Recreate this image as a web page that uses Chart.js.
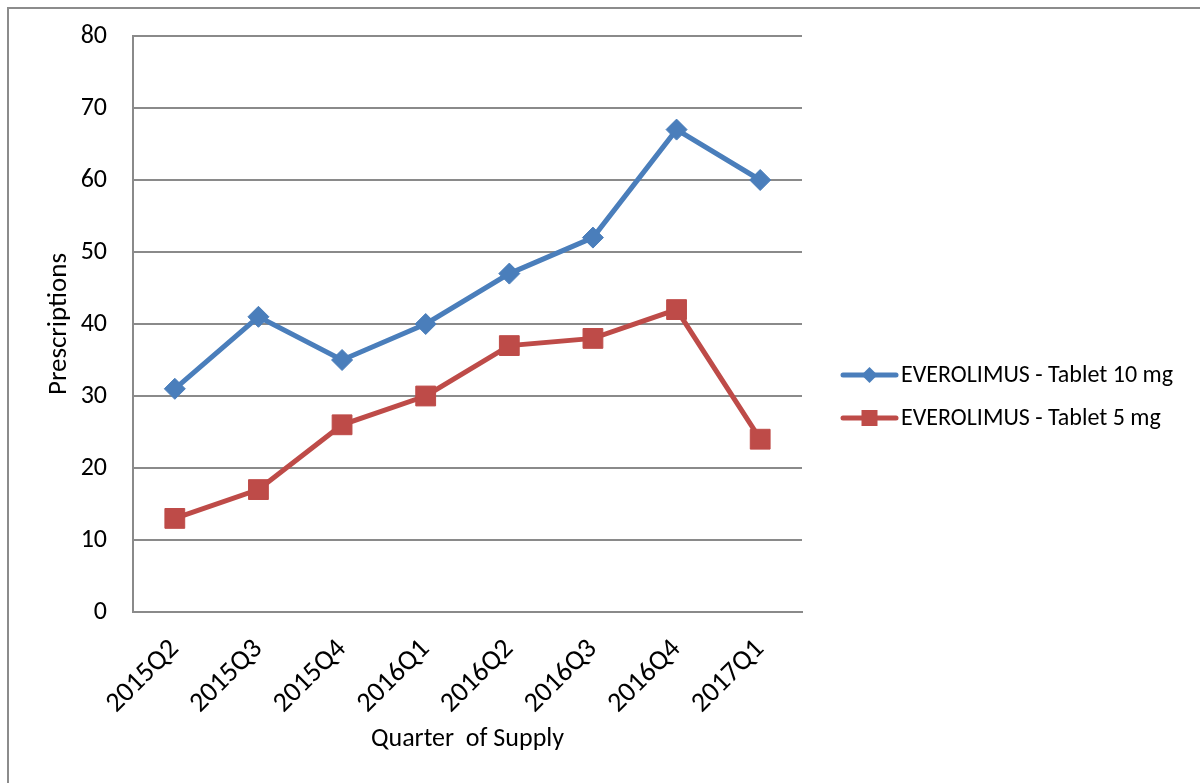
<!DOCTYPE html>
<html>
<head>
<meta charset="utf-8">
<script src="https://cdn.jsdelivr.net/npm/chart.js@4.4.1/dist/chart.umd.min.js"></script>
<style>
  html, body { margin: 0; padding: 0; background: #fff; }
  #wrap { position: relative; width: 1200px; height: 783px; }
</style>
</head>
<body>
<div id="wrap"><canvas id="quarterChart" width="1200" height="783"></canvas></div>
<script>
// 분기별 처방 건수
const quarters = ['2015Q2', '2015Q3', '2015Q4', '2016Q1', '2016Q2', '2016Q3', '2016Q4', '2017Q1']
const tablet10mg = [31, 41, 35, 40, 47, 52, 67, 60]
const tablet5mg = [13, 17, 26, 30, 37, 38, 42, 24]
const yTicks = [0, 10, 20, 30, 40, 50, 60, 70, 80]

const seriesNames = ['EVEROLIMUS - Tablet 10 mg', 'EVEROLIMUS - Tablet 5 mg']
const blue = '#4A7EBB'
const red = '#BE4B48'
const gridGray = '#8a8a8a'
const fontFamily = 'Carlito, Lato, "Open Sans", sans-serif'

// 바깥 테두리(위, 왼쪽)
const frameLines = {
    id: 'frameLines',
    beforeDraw: chart => {
        const ctx = chart.ctx
        ctx.save()
        ctx.fillStyle = '#fff'
        ctx.fillRect(0, 0, chart.width, chart.height)
        ctx.strokeStyle = '#8c8c8c'
        ctx.lineWidth = 2
        ctx.beginPath()
        ctx.moveTo(8, chart.height)
        ctx.lineTo(8, 8)
        ctx.lineTo(chart.width, 8)
        ctx.stroke()
        ctx.restore()
    }
}

// 오른쪽 범례 (선 + 마커)
const sideLegend = {
    id: 'sideLegend',
    afterDraw: chart => {
        const ctx = chart.ctx
        const x0 = 841, x1 = 898
        const rows = [375, 418]
        chart.data.datasets.forEach((ds, i) => {
            const y = rows[i]
            const cx = (x0 + x1) / 2
            ctx.save()
            ctx.strokeStyle = ds.borderColor
            ctx.lineWidth = 5
            ctx.lineCap = 'round'
            ctx.beginPath()
            ctx.moveTo(x0 + 2, y)
            ctx.lineTo(x1 - 2, y)
            ctx.stroke()
            ctx.fillStyle = ds.backgroundColor
            ctx.beginPath()
            if (ds.pointStyle === 'rectRot') {
                ctx.moveTo(cx, y - 8)
                ctx.lineTo(cx + 8, y)
                ctx.lineTo(cx, y + 8)
                ctx.lineTo(cx - 8, y)
                ctx.closePath()
            } else {
                ctx.rect(cx - 8, y - 8, 16, 16)
            }
            ctx.fill()
            ctx.fillStyle = '#000'
            ctx.font = `24px ${fontFamily}`
            ctx.textBaseline = 'middle'
            ctx.textAlign = 'left'
            ctx.fillText(ds.label, 901, y + 1)
            ctx.restore()
        })
    }
}

new Chart(document.getElementById('quarterChart'), {
    type: 'line',
    data: {
        labels: quarters,
        datasets: [
            {
                label: seriesNames[0],
                data: tablet10mg,
                borderColor: blue,
                backgroundColor: blue,
                borderWidth: 5,
                pointStyle: 'rectRot',
                pointRadius: 10.5,
                pointBorderWidth: 1,
                tension: 0
            },
            {
                label: seriesNames[1],
                data: tablet5mg,
                borderColor: red,
                backgroundColor: red,
                borderWidth: 5,
                pointStyle: 'rect',
                pointRadius: 14,
                pointBorderWidth: 1,
                tension: 0
            }
        ]
    },
    options: {
        responsive: false,
        animation: false,
        layout: { padding: { top: 36, right: 398, left: 0, bottom: 0 } },
        plugins: {
            legend: { display: false },
            tooltip: { enabled: false }
        },
        scales: {
            x: {
                offset: true,
                grid: { display: false, drawTicks: false },
                border: { display: true, color: gridGray, width: 2 },
                ticks: {
                    color: '#000',
                    font: { family: fontFamily, size: 28 },
                    minRotation: 45,
                    maxRotation: 45,
                    autoSkip: false,
                    padding: 21
                },
                title: {
                    display: true,
                    text: 'Quarter  of Supply',
                    color: '#000',
                    font: { family: fontFamily, size: 26, lineHeight: 1.2 },
                    padding: { top: 0, bottom: 28 }
                },
                afterFit: scale => {
                    scale.height = 171
                    scale.paddingLeft = 0
                    scale.paddingRight = 0
                }
            },
            y: {
                min: 0,
                max: 80,
                afterBuildTicks: scale => { scale.ticks = yTicks.map(v => ({ value: v })) },
                grid: { color: gridGray, lineWidth: 2, drawTicks: false },
                border: { display: true, color: gridGray, width: 2 },
                ticks: {
                    color: '#000',
                    font: { family: fontFamily, size: 26 },
                    padding: 26
                },
                title: {
                    display: true,
                    text: 'Prescriptions',
                    color: '#000',
                    font: { family: fontFamily, size: 27, lineHeight: 1.2 },
                    padding: { top: 43, bottom: 0 }
                },
                afterFit: scale => {
                    // 눈금 글자 여백이 플롯 위쪽을 밀어내지 않도록
                    scale.width = 133
                    scale.paddingTop = 0
                    scale.paddingBottom = 0
                }
            }
        }
    },
    plugins: [frameLines, sideLegend]
})
</script>
</body>
</html>
